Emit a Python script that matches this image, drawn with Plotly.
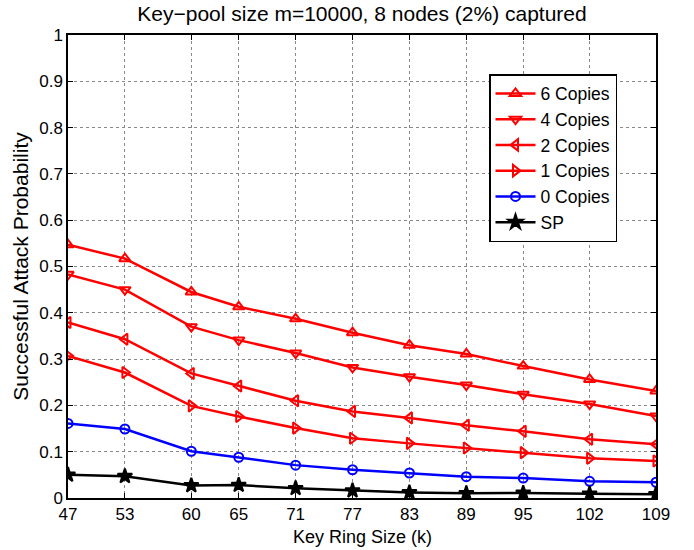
import plotly.graph_objects as go

key_ring = [47, 53, 60, 65, 71, 77, 83, 89, 95, 102, 109]
copies6 = [0.547, 0.517, 0.445, 0.413, 0.387, 0.357, 0.330, 0.311, 0.285, 0.256, 0.231]
copies4 = [0.483, 0.450, 0.370, 0.341, 0.313, 0.282, 0.262, 0.244, 0.224, 0.203, 0.177]
copies2 = [0.379, 0.343, 0.269, 0.242, 0.210, 0.187, 0.173, 0.157, 0.144, 0.127, 0.116]
copies1 = [0.307, 0.271, 0.199, 0.176, 0.151, 0.129, 0.118, 0.108, 0.098, 0.086, 0.080]
copies0 = [0.161, 0.149, 0.101, 0.088, 0.071, 0.061, 0.054, 0.046, 0.043, 0.036, 0.034]
sp = [0.050, 0.047, 0.027, 0.028, 0.021, 0.016, 0.012, 0.010, 0.011, 0.009, 0.008]
y_ticks = [0, 0.1, 0.2, 0.3, 0.4, 0.5, 0.6, 0.7, 0.8, 0.9, 1]
y_tick_labels = ["0", "0.1", "0.2", "0.3", "0.4", "0.5", "0.6", "0.7", "0.8", "0.9", "1"]

series = [
    ("6 Copies", copies6, "red", "triangle-up-open", 10),
    ("4 Copies", copies4, "red", "triangle-down-open", 10),
    ("2 Copies", copies2, "red", "triangle-left-open", 10),
    ("1 Copies", copies1, "red", "triangle-right-open", 10),
    ("0 Copies", copies0, "blue", "circle-open", 9),
    ("SP", sp, "black", "star", 11),
]

fig = go.Figure()
for name, vals, color, sym, size in series:
    fig.add_trace(go.Scatter(
        x=key_ring, y=vals, name=name, mode="lines+markers",
        line=dict(color=color, width=2.5),
        marker=dict(symbol=sym, size=size, color=color,
                    line=dict(color=color, width=2)),
    ))

font_family = "Liberation Sans"
fig.update_layout(
    width=694, height=550,
    margin=dict(l=68, r=38, t=35, b=52),
    paper_bgcolor="white", plot_bgcolor="white",
    font=dict(family=font_family, size=17, color="black"),
    title=dict(text="Key\u2212pool size m=10000, 8 nodes (2%) captured",
               x=(68 + 656) / 2 / 694, xanchor="center", y=1 - 14 / 550, yanchor="middle",
               font=dict(size=21)),
    showlegend=True,
    legend=dict(x=(489 - 68) / 588, y=(498 - 74) / 463, xanchor="left", yanchor="top",
                bgcolor="white", bordercolor="black", borderwidth=1.5,
                font=dict(size=17.5), tracegroupgap=0, itemwidth=40),
    annotations=[dict(text="Key Ring Size (k)", xref="paper", yref="paper",
                      x=0.5, y=-(537 - 498) / 463, xanchor="center", yanchor="middle",
                      showarrow=False, font=dict(size=18))],
)
fig.update_xaxes(
    range=[47, 109], tickmode="array", tickvals=key_ring,
    ticktext=[str(v) for v in key_ring],
    showline=True, linecolor="black", linewidth=1.5, mirror="ticks",
    ticks="inside", ticklen=5, tickcolor="black",
    showgrid=True, gridcolor="#888888", griddash="dot", gridwidth=1,
    zeroline=False, tickfont=dict(size=17), ticklabelstandoff=0,
)
fig.update_yaxes(
    range=[0, 1], tickmode="array", tickvals=y_ticks, ticktext=y_tick_labels,
    showline=True, linecolor="black", linewidth=1.5, mirror="ticks",
    ticks="inside", ticklen=5, tickcolor="black",
    showgrid=True, gridcolor="#888888", griddash="dot", gridwidth=1,
    zeroline=False, tickfont=dict(size=17),
    title=dict(text="Successful Attack Probability", font=dict(size=21), standoff=5),
)
fig.write_html("out.html", config={"displayModeBar": False},
               post_script="document.body.style.margin='0';")
